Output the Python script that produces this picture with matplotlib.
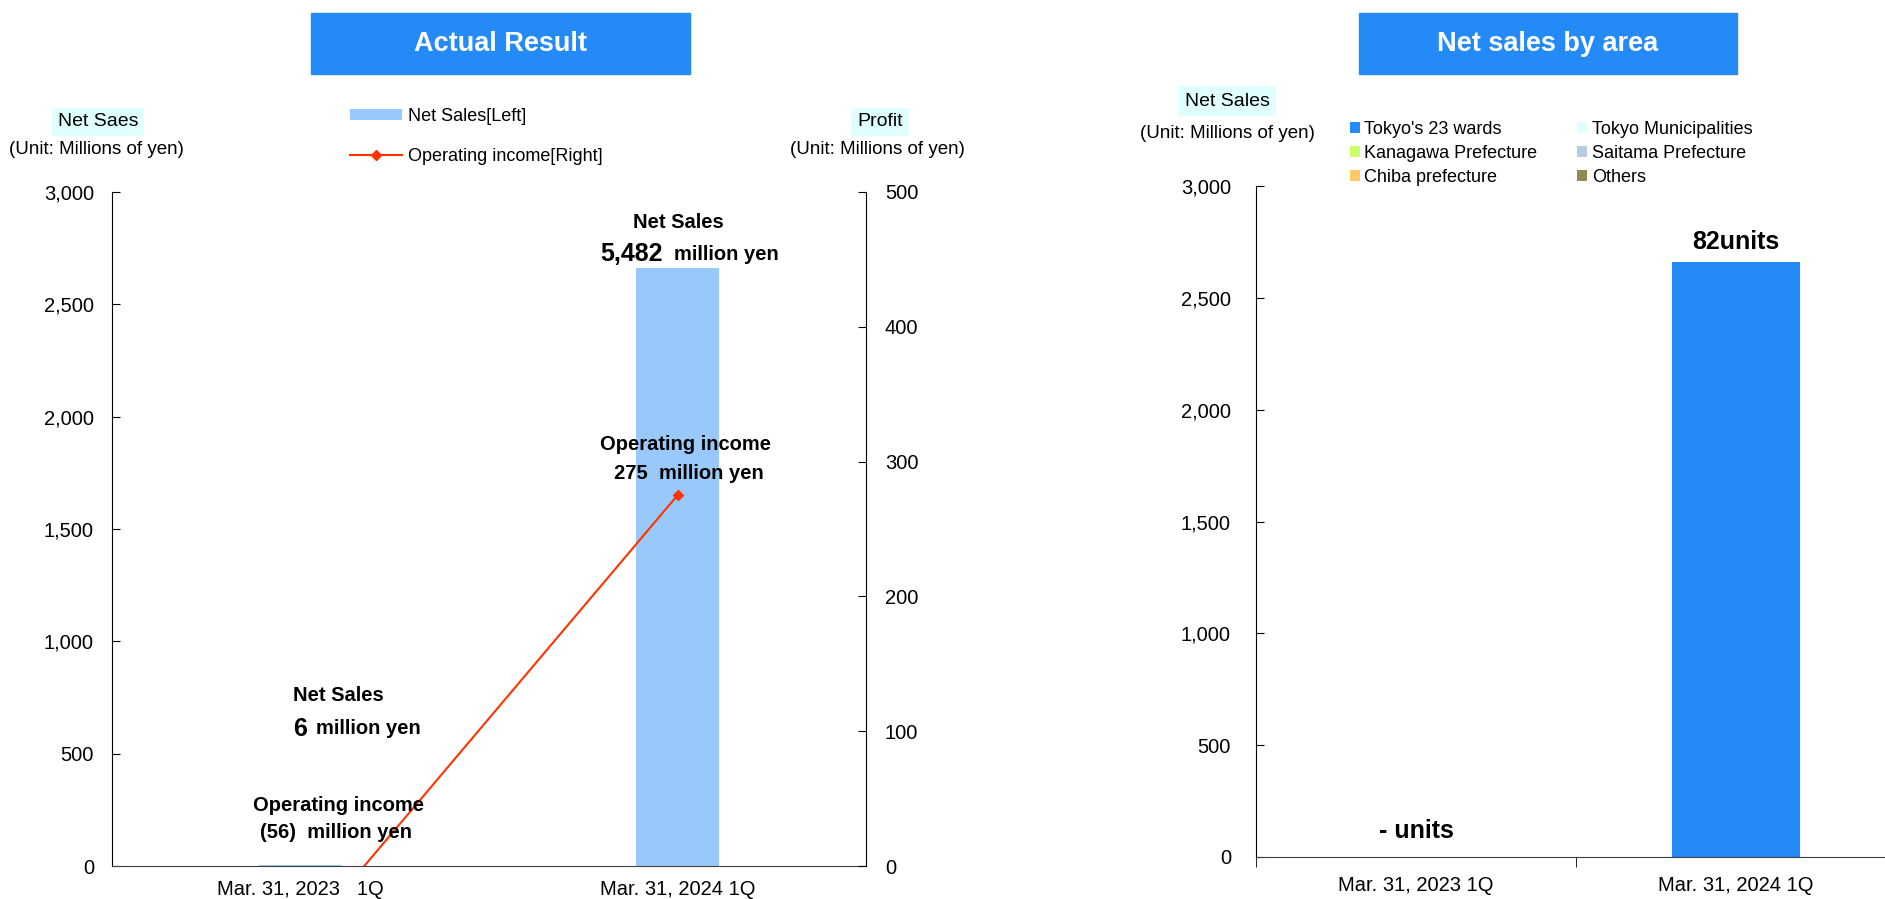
import numpy as np
import matplotlib
matplotlib.use("Agg")
import matplotlib.pyplot as plt
from matplotlib.patches import Rectangle
from matplotlib.ticker import StrMethodFormatter, FixedLocator

plt.rcParams['font.family'] = ['Liberation Sans Narrow', 'Liberation Sans', 'DejaVu Sans']

# data
periods = ["Mar. 31, 2023   1Q", "Mar. 31, 2024 1Q"]
periods_area = ["Mar. 31, 2023 1Q", "Mar. 31, 2024 1Q"]
net_sales = [6, 2660]            # bar heights as drawn (left axis)
op_income = [-56, 275]           # right axis
net_sales_lbl = ["6", "5,482"]
op_income_lbl = ["(56)", "275"]

areas = ["Tokyo's 23 wards", "Tokyo Municipalities", "Kanagawa Prefecture",
         "Saitama Prefecture", "Chiba prefecture", "Others"]
area_colors = ["#248AF8", "#E0FFFF", "#CCFF66", "#B8CCE4", "#FFC966", "#948A54"]
tokyo23 = [0, 2660]
tokyo_muni = [0, 0]
kanagawa = [0, 0]
saitama = [0, 0]
chiba = [0, 0]
others = [0, 0]
units_lbl = ["- units", "82units"]

W, H = 1885, 899
def fx(px): return px / W
def fy(py): return 1 - py / H

fig = plt.figure(figsize=(W / 100, H / 100), dpi=100)
blue = "#248AF8"

# title boxes
for x0, x1, title in [(311, 690, "Actual Result"), (1359, 1737, "Net sales by area")]:
    fig.patches.append(Rectangle((fx(x0), fy(74)), (x1 - x0) / W, 61 / H,
                                 transform=fig.transFigure, color=blue))
    fig.text(fx((x0 + x1) / 2), fy(44), title, color="white", fontsize=19.5,
             fontweight="bold", ha="center", va="center")

# ---------- left chart ----------
ax1 = fig.add_axes([fx(112), fy(866), (866 - 112) / W, (866 - 192) / H])
x = np.arange(len(periods))
bars = ax1.bar(x, net_sales, width=0.22, color="#99C9FA", label="Net Sales[Left]")
ax1.set_xlim(-0.5, 1.5)
ax1.set_ylim(0, 3000)
ax1.set_yticks(np.arange(0, 3001, 500))
ax1.yaxis.set_major_formatter(StrMethodFormatter("{x:,.0f}"))
ax1.set_xticks(x)
ax1.set_xticklabels(periods)
ax1.tick_params(axis="x", length=0, pad=10, labelsize=14.5)
ax1.tick_params(axis="y", direction="in", length=6, pad=13, labelsize=14.5)
ax1.spines["top"].set_visible(False)
ax1.spines["right"].set_visible(False)
ax1.spines["bottom"].set_color("#404040")

ax1r = ax1.twinx()
line, = ax1r.plot(x, op_income, color="#FF3300", lw=1.5, marker="D", markersize=5,
                  label="Operating income[Right]")
ax1r.set_ylim(0, 500)
ax1r.set_yticks(np.arange(0, 501, 100))
ax1r.tick_params(axis="y", direction="in", length=6, pad=13.5, labelsize=14.5)
ax1r.spines["top"].set_visible(False)
ax1r.spines["left"].set_visible(False)
ax1r.spines["bottom"].set_visible(False)

# annotations
t = ax1.transData
bold = dict(fontweight="bold", va="center", transform=t)
ax1r.text(0.10, 757, "Net Sales", fontsize=14.5, ha="center", **bold)
ax1r.text(0.017, 610, net_sales_lbl[0], fontsize=18, ha="right", **bold)
ax1r.text(0.041, 610, "million yen", fontsize=14.5, ha="left", **bold)
ax1r.text(0.10, 271, "Operating income", fontsize=14.5, ha="center", **bold)
ax1r.text(0.094, 151, op_income_lbl[0] + "  million yen", fontsize=14.5, ha="center", **bold)
ax1r.text(1.003, 2866, "Net Sales", fontsize=14.5, ha="center", **bold)
ax1r.text(0.96, 2724, net_sales_lbl[1], fontsize=18, ha="right", **bold)
ax1r.text(0.99, 2724, "million yen", fontsize=14.5, ha="left", **bold)
ax1r.text(1.022, 1878, "Operating income", fontsize=14.5, ha="center", **bold)
ax1r.text(1.03, 1749, op_income_lbl[1] + "  million yen", fontsize=14.5, ha="center", **bold)

ax1r.legend(handles=[bars, line], loc="upper left", bbox_to_anchor=(fx(350), fy(108)),
            bbox_transform=fig.transFigure, frameon=False, fontsize=13, borderpad=0,
            borderaxespad=0, handlelength=2.9, handleheight=0.55, handletextpad=0.3,
            labelspacing=1.25)

cyan = "#E0FFFF"
fig.text(fx(98), fy(122), "Net Saes", fontsize=14, ha="center", va="center",
         bbox=dict(boxstyle="square,pad=0.3", fc=cyan, ec="none"))
fig.text(fx(96), fy(150), "(Unit: Millions of yen)", fontsize=13.5, ha="center", va="center")
fig.text(fx(880), fy(122), "Profit", fontsize=14, ha="center", va="center",
         bbox=dict(boxstyle="square,pad=0.3", fc=cyan, ec="none"))
fig.text(fx(877), fy(150), "(Unit: Millions of yen)", fontsize=13.5, ha="center", va="center")

# ---------- right chart ----------
ax2 = fig.add_axes([fx(1256), fy(857), 640 / W, (857 - 186) / H])
series = [tokyo23, tokyo_muni, kanagawa, saitama, chiba, others]
bottom = np.zeros(len(periods_area))
handles = []
for name, vals, c in zip(areas, series, area_colors):
    b = ax2.bar(x, vals, bottom=bottom, width=0.4, color=c, label=name)
    handles.append(b)
    bottom = bottom + np.array(vals)
ax2.set_xlim(-0.5, 1.5)
ax2.set_ylim(0, 3000)
ax2.set_yticks(np.arange(0, 3001, 500))
ax2.yaxis.set_major_formatter(StrMethodFormatter("{x:,.0f}"))
ax2.set_xticks(x)
ax2.set_xticklabels(periods_area)
ax2.xaxis.set_minor_locator(FixedLocator([-0.5, 0.5, 1.5]))
ax2.tick_params(axis="x", which="major", length=0, pad=14, labelsize=14.5)
ax2.tick_params(axis="x", which="minor", direction="out", length=7)
ax2.tick_params(axis="y", direction="in", length=6, pad=18, labelsize=14.5)
ax2.spines["top"].set_visible(False)
ax2.spines["right"].set_visible(False)
ax2.spines["bottom"].set_color("#404040")

ax2.text(0, 116, units_lbl[0], fontsize=18, fontweight="bold", ha="center", va="center")
ax2.text(1, 2749, units_lbl[1], fontsize=18, fontweight="bold", ha="center", va="center")

order = [0, 2, 4, 1, 3, 5]
ax2.legend([handles[i] for i in order], [areas[i] for i in order], ncol=2,
           loc="upper left", bbox_to_anchor=(fx(1350), fy(121)), bbox_transform=fig.transFigure,
           frameon=False, fontsize=13, borderpad=0, borderaxespad=0, handlelength=0.55,
           handleheight=0.55, handletextpad=0.25, columnspacing=2.2, labelspacing=0.38)

fig.text(fx(1227), fy(101), "Net Sales", fontsize=14, ha="center", va="center",
         bbox=dict(boxstyle="square,pad=0.35", fc=cyan, ec="none"))
fig.text(fx(1227), fy(133), "(Unit: Millions of yen)", fontsize=13.5, ha="center", va="center")

fig.savefig("out.png", dpi=100)
